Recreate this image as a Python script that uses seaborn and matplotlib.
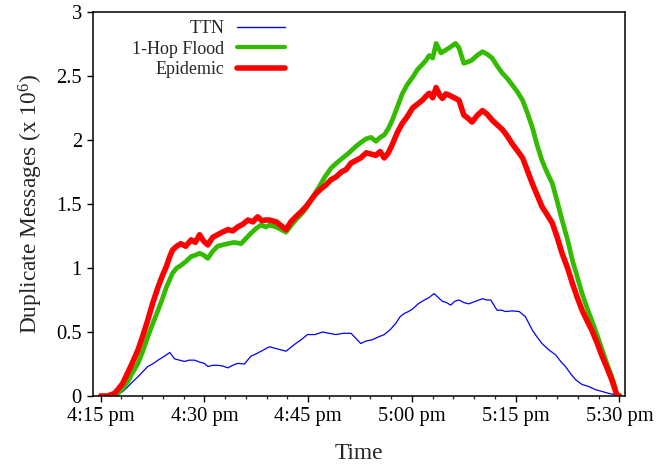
import numpy as np
import pandas as pd
import matplotlib
matplotlib.use("Agg")
import matplotlib.pyplot as plt
import seaborn as sns
from matplotlib.ticker import MultipleLocator

# ---- data (minutes after 4:15 pm, duplicate messages in millions) ----
ttn_t = [0, 1.5, 2.5, 3.2, 3.9, 4.6, 5.4, 6.1, 6.8, 7.5, 8.3, 9.2, 10.0, 10.7, 11.4, 12.1, 12.8,
         13.6, 14.3, 15.0, 15.5, 16.2, 16.9, 17.6, 18.4, 19.1, 19.8, 20.8, 21.7, 22.5, 23.2, 24.4,
         25.4, 26.1, 26.8, 27.5, 28.2, 29.0, 29.9, 31.0, 32.1, 33.0, 34.0, 35.1, 36.2, 36.9, 37.6,
         38.4, 39.3, 40.1, 41.0, 41.9, 42.7, 43.3, 43.9, 44.5, 45.1, 45.9, 46.8, 47.5, 48.2, 48.8,
         49.4, 50.0, 50.6, 51.2, 51.8, 52.5, 53.2, 54.2, 55.2, 55.8, 56.4, 57.3, 58.0, 58.5, 59.5,
         60.5, 61.4, 62.4, 63.1, 63.8, 64.8, 65.8, 66.5, 67.2, 68.0, 68.7, 69.6, 70.6, 71.5, 72.5,
         73.5, 74.4, 75.0]
ttn_v = [0, 0, 0.01, 0.035, 0.07, 0.11, 0.15, 0.19, 0.23, 0.25, 0.28, 0.31, 0.34, 0.29, 0.28, 0.27,
         0.28, 0.28, 0.265, 0.255, 0.23, 0.24, 0.24, 0.235, 0.22, 0.24, 0.255, 0.25, 0.31, 0.33,
         0.35, 0.385, 0.37, 0.36, 0.35, 0.38, 0.41, 0.44, 0.48, 0.48, 0.50, 0.49, 0.48, 0.49, 0.49,
         0.45, 0.41, 0.43, 0.44, 0.46, 0.48, 0.52, 0.57, 0.62, 0.645, 0.66, 0.68, 0.72, 0.75, 0.77,
         0.80, 0.77, 0.74, 0.73, 0.71, 0.74, 0.75, 0.73, 0.72, 0.74, 0.76, 0.75, 0.75, 0.67, 0.67,
         0.66, 0.665, 0.66, 0.62, 0.515, 0.46, 0.41, 0.36, 0.32, 0.27, 0.23, 0.17, 0.125, 0.09,
         0.073, 0.05, 0.035, 0.02, 0.01, 0.0]

flood_t = [0, 1.5, 2.5, 3.2, 3.9, 4.6, 5.4, 6.1, 6.8, 7.5, 8.3, 9.0, 9.5, 10.0, 10.4, 11.0, 11.6,
           12.3, 13.1, 13.7, 14.3, 14.9, 15.5, 16.2, 16.9, 17.6, 18.4, 19.3, 20.3, 21.0, 21.7,
           22.5, 23.2, 23.9, 24.4, 25.4, 26.1, 26.8, 27.5, 28.2, 29.0, 29.7, 30.6, 31.6, 32.4,
           33.3, 34.1, 35.0, 35.9, 36.9, 37.6, 38.4, 39.1, 39.8, 40.4, 41.0, 41.6, 42.2, 42.9,
           43.6, 44.3, 45.1, 45.8, 46.5, 47.0, 47.5, 48.0, 48.5, 49.2, 49.8, 50.4, 51.3, 51.8,
           52.5, 53.1, 53.7, 54.4, 55.2, 55.9, 56.6, 57.3, 58.1, 58.8, 59.5, 60.2, 61.0, 61.7,
           62.4, 63.1, 63.8, 64.5, 65.3, 66.0, 66.7, 67.5, 68.2, 68.9, 69.6, 70.3, 71.0, 71.8,
           72.5, 73.2, 73.9, 74.3, 74.6, 75.0]
flood_v = [0, 0, 0.02, 0.06, 0.11, 0.18, 0.255, 0.35, 0.46, 0.56, 0.67, 0.77, 0.85, 0.91, 0.96,
           1.0, 1.02, 1.05, 1.09, 1.10, 1.115, 1.10, 1.075, 1.13, 1.17, 1.18, 1.19, 1.20, 1.19,
           1.23, 1.27, 1.31, 1.336, 1.32, 1.336, 1.32, 1.30, 1.28, 1.33, 1.375, 1.42, 1.466, 1.55,
           1.635, 1.71, 1.78, 1.82, 1.86, 1.90, 1.95, 1.98, 2.01, 2.02, 1.99, 2.02, 2.04, 2.09,
           2.16, 2.26, 2.36, 2.43, 2.49, 2.55, 2.59, 2.62, 2.66, 2.64, 2.755, 2.68, 2.70, 2.72,
           2.755, 2.72, 2.60, 2.61, 2.625, 2.66, 2.69, 2.67, 2.64, 2.58, 2.52, 2.48, 2.43, 2.38,
           2.31, 2.21, 2.10, 1.96, 1.84, 1.75, 1.66, 1.52, 1.375, 1.22, 1.06, 0.93, 0.80, 0.69,
           0.59, 0.47, 0.36, 0.25, 0.15, 0.08, 0.01, 0.0]

epi_t = [0, 1.0, 2.0, 2.5, 3.2, 3.9, 4.6, 5.4, 6.1, 6.8, 7.5, 8.3, 9.0, 9.5, 10.0, 10.4, 11.0, 11.6,
         12.3, 13.1, 13.7, 14.3, 14.9, 15.5, 16.2, 16.9, 17.6, 18.4, 19.1, 19.8, 20.5, 21.3, 22.0,
         22.7, 23.3, 23.9, 24.4, 25.4, 26.1, 26.8, 27.5, 28.2, 29.0, 29.7, 30.4, 31.1, 31.9, 32.6,
         33.3, 34.0, 34.8, 35.5, 36.2, 36.9, 37.6, 38.4, 39.1, 39.8, 40.4, 41.0, 41.6, 42.2, 42.9,
         43.6, 44.3, 45.1, 45.8, 46.5, 47.0, 47.5, 48.0, 48.5, 49.0, 49.4, 49.9, 50.4, 51.3, 51.8,
         52.5, 53.1, 53.7, 54.4, 55.2, 55.9, 56.6, 57.3, 58.1, 58.8, 59.5, 60.2, 61.0, 61.7, 62.4,
         63.1, 63.8, 64.5, 65.3, 66.0, 66.7, 67.5, 68.2, 68.9, 69.6, 70.3, 71.0, 71.8, 72.5, 73.2,
         73.9, 74.3, 74.6, 75.0]
epi_v = [0, 0, 0.02, 0.05, 0.10, 0.18, 0.26, 0.36, 0.47, 0.59, 0.72, 0.85, 0.95, 1.01, 1.09, 1.14,
         1.17, 1.19, 1.17, 1.22, 1.20, 1.26, 1.21, 1.18, 1.24, 1.26, 1.28, 1.30, 1.29, 1.32, 1.34,
         1.375, 1.36, 1.40, 1.37, 1.375, 1.375, 1.36, 1.33, 1.30, 1.36, 1.40, 1.44, 1.48, 1.53,
         1.58, 1.62, 1.65, 1.69, 1.71, 1.75, 1.77, 1.82, 1.84, 1.86, 1.90, 1.89, 1.88, 1.91, 1.86,
         1.90, 1.97, 2.06, 2.13, 2.18, 2.25, 2.28, 2.31, 2.34, 2.365, 2.33, 2.41, 2.35, 2.325, 2.36,
         2.35, 2.325, 2.31, 2.195, 2.17, 2.14, 2.19, 2.23, 2.20, 2.155, 2.12, 2.08, 2.03, 1.97,
         1.92, 1.86, 1.76, 1.66, 1.57, 1.48, 1.42, 1.35, 1.24, 1.115, 1.0, 0.88, 0.77, 0.67, 0.59,
         0.515, 0.41, 0.31, 0.22, 0.125, 0.06, 0.01, 0.0]

tick_minutes = [0, 15, 30, 45, 60, 75]
tick_labels = ["4:15 pm", "4:30 pm", "4:45 pm", "5:00 pm", "5:15 pm", "5:30 pm"]
y_ticks = [0, 0.5, 1, 1.5, 2, 2.5, 3]
y_tick_labels = ["0", "0.5", "1", "1.5", "2", "2.5", "3"]
series_names = ["TTN", "1-Hop Flood", "Epidemic"]
series_colors = ["#0000ff", "#33bb00", "#ff0000"]

# ---- style ----
sns.set_style("ticks")
plt.rcParams["font.family"] = ["Liberation Serif", "DejaVu Serif"]
plt.rcParams["mathtext.fontset"] = "custom"
plt.rcParams["mathtext.rm"] = "Liberation Serif"
plt.rcParams["mathtext.it"] = "Liberation Serif:italic"

fig = plt.figure(figsize=(6.58, 4.68), dpi=100)
ax = fig.add_axes([93 / 658, 1 - 396 / 468, (625 - 93) / 658, (396 - 12) / 468])

frames = [
    pd.DataFrame({"t": ttn_t, "v": ttn_v}),
    pd.DataFrame({"t": flood_t, "v": flood_v}),
    pd.DataFrame({"t": epi_t, "v": epi_v}),
]
widths = [0.9, 3.4, 4.0]
for df, name, col, lw in zip(frames, series_names, series_colors, widths):
    sns.lineplot(data=df, x="t", y="v", ax=ax, color=col, linewidth=lw, label=name,
                 estimator=None, sort=False)

ax.set_xlim(-1.1, 75.8)
ax.set_ylim(0, 3)
ax.set_xticks(tick_minutes)
ax.set_xticklabels(tick_labels)
ax.xaxis.set_minor_locator(MultipleLocator(3))
ax.set_yticks(y_ticks)
ax.set_yticklabels(y_tick_labels)
ax.tick_params(axis="both", which="major", direction="out", length=4, width=1.0,
               labelsize=14.8, pad=4, colors="black")
ax.tick_params(axis="x", which="minor", direction="out", length=2.5, width=0.9)
for s in ax.spines.values():
    s.set_visible(True)
    s.set_linewidth(1.1)
    s.set_color("black")

ax.set_xlabel("Time", fontsize=16.8, labelpad=12)
ax.set_ylabel(r"Duplicate Messages (x 10$^{6}$)", fontsize=16.8, labelpad=8)

leg = ax.legend(loc="upper right", bbox_to_anchor=(285 / 658, 1 - 20 / 468),
                bbox_transform=fig.transFigure, frameon=False, markerfirst=False,
                fontsize=13, handlelength=2.65, handletextpad=0.7, labelspacing=0.2,
                borderpad=0, borderaxespad=0)
for line, lw in zip(leg.get_lines(), [1.0, 3.0, 4.0]):
    line.set_linewidth(lw)

fig.savefig("out.png", dpi=100)
